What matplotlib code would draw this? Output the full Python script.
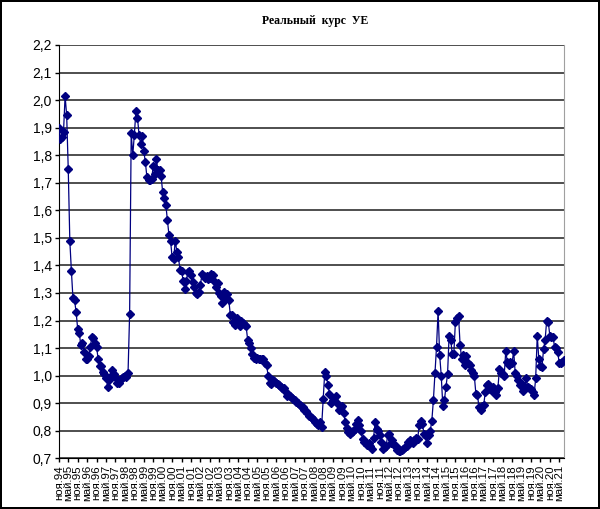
import matplotlib
matplotlib.use('Agg')
import matplotlib.pyplot as plt
from matplotlib.ticker import FixedLocator, FuncFormatter

# monthly values, Nov 1994 .. Sep 2021
kurs_94_98 = [1.90, 1.86, 1.865, 1.885, 2.015, 1.945, 1.75, 1.49, 1.38, 1.28,
              1.275, 1.23, 1.17, 1.155, 1.11, 1.12, 1.085, 1.06, 1.06, 1.07,
              1.105, 1.14, 1.135, 1.12, 1.105, 1.06, 1.035, 1.035, 1.015, 1.005,
              0.99, 0.96, 0.985, 1.00, 1.02, 1.005, 0.995, 0.975, 0.975, 0.985,
              0.99, 0.995, 1.00, 0.995, 1.01, 1.225]
kurs_98_04 = [1.88, 1.80, 1.875, 1.96, 1.935, 1.875, 1.84, 1.87, 1.815, 1.775,
              1.72, 1.71, 1.71, 1.715, 1.76, 1.73, 1.785, 1.745, 1.745, 1.725,
              1.665, 1.645, 1.62, 1.565, 1.51, 1.49, 1.43, 1.425, 1.49, 1.45,
              1.43, 1.385, 1.38, 1.345, 1.315, 1.345, 1.375, 1.38, 1.365, 1.34,
              1.32, 1.30, 1.295, 1.305, 1.33, 1.37, 1.36, 1.355, 1.36, 1.35,
              1.355, 1.37, 1.365, 1.34, 1.32, 1.335, 1.30, 1.29, 1.265, 1.305,
              1.28, 1.295, 1.275, 1.22, 1.22, 1.195, 1.185, 1.21, 1.195, 1.18,
              1.20, 1.19, 1.185, 1.18]
kurs_04_11 = [1.13, 1.12, 1.10, 1.08, 1.065, 1.06, 1.065, 1.06, 1.06, 1.06,
              1.06, 1.045, 1.04, 1.00, 0.975, 0.97, 0.985, 0.98, 0.975, 0.97,
              0.965, 0.96, 0.955, 0.955, 0.945, 0.925, 0.93, 0.925, 0.92, 0.915,
              0.91, 0.905, 0.90, 0.895, 0.89, 0.885, 0.875, 0.87, 0.865, 0.855,
              0.85, 0.845, 0.84, 0.83, 0.825, 0.82, 0.83, 0.815, 0.915, 1.015,
              1.00, 0.965, 0.935, 0.90, 0.91, 0.92, 0.925, 0.90, 0.875, 0.885,
              0.89, 0.865, 0.83, 0.81, 0.795, 0.79, 0.795, 0.80, 0.805, 0.825,
              0.84, 0.82, 0.80, 0.77, 0.76, 0.755, 0.75, 0.755, 0.745, 0.735,
              0.775]
kurs_11_21 = [0.83, 0.805, 0.80, 0.785, 0.76, 0.735, 0.74, 0.745, 0.785, 0.79,
              0.755, 0.765, 0.75, 0.745, 0.73, 0.725, 0.725, 0.73, 0.735, 0.74,
              0.745, 0.76, 0.765, 0.76, 0.755, 0.765, 0.775, 0.77, 0.82, 0.835,
              0.825, 0.79, 0.78, 0.755, 0.785, 0.80, 0.835, 0.91, 1.01, 1.105,
              1.235, 1.075, 1.00, 0.89, 0.91, 0.96, 1.005, 1.145, 1.13, 1.08,
              1.08, 1.195, 1.21, 1.215, 1.11, 1.06, 1.075, 1.04, 1.07, 1.045,
              1.04, 1.02, 1.01, 1.00, 0.935, 0.93, 0.885, 0.875, 0.89, 0.895,
              0.94, 0.965, 0.97, 0.95, 0.945, 0.96, 0.94, 0.93, 0.955, 1.025,
              1.01, 1.005, 1.00, 1.09, 1.05, 1.04, 1.05, 1.045, 1.09, 1.01,
              1.00, 0.985, 0.965, 0.97, 0.945, 0.96, 0.99, 0.96, 0.955, 0.95,
              0.94, 0.93, 0.99, 1.145, 1.06, 1.035, 1.03, 1.095, 1.13, 1.20,
              1.195, 1.145, 1.14, 1.14, 1.105, 1.10, 1.085, 1.045, 1.045, 1.05,
              1.055]

kurs = kurs_94_98 + kurs_98_04 + kurs_04_11 + kurs_11_21

# tick labels every 6 months
years = list(range(94, 100)) + list(range(0, 22))
labels = []
for y in years:
    if y != 94:
        labels.append('май.%02d' % y)
    if y != 21:
        labels.append('ноя.%02d' % y)

fig = plt.figure(figsize=(6.0, 5.09), dpi=100)
fig.patch.set_edgecolor('black')
fig.patch.set_linewidth(1.5)
ax = fig.add_axes([0.098, 0.0996, 0.842, 0.812])

x = list(range(len(kurs)))
ax.plot(x, kurs, color='#000080', lw=0.9, marker='D', markersize=3.6,
        markerfacecolor='#000080', markeredgecolor='#000080', zorder=3)

ax.set_xlim(0, len(kurs) - 1)
ax.set_ylim(0.7, 2.2)
ax.set_yticks([0.7 + 0.1 * k for k in range(16)])
ax.yaxis.set_major_formatter(FuncFormatter(lambda v, p: ('%.1f' % v).replace('.', ',')))
ax.xaxis.set_major_locator(FixedLocator([6 * k for k in range(len(labels))]))
ax.set_xticklabels(labels, rotation=90, fontsize=8.2, family='Liberation Sans')
for t in ax.get_yticklabels():
    t.set_family('Liberation Sans')
    t.set_fontsize(10)

ax.grid(axis='y', color='#404040', lw=1.3)
ax.set_axisbelow(True)
ax.tick_params(axis='both', direction='out', length=3, width=1, pad=2)
ax.spines['left'].set_color('black')
ax.spines['bottom'].set_color('black')
ax.spines['top'].set_visible(False)
ax.spines['right'].set_color('#a0a0a0')

fig.text(0.525, 0.958, 'Реальный  курс  УЕ', ha='center', va='center',
         family='Liberation Serif', fontweight='bold', fontsize=8.5)

fig.savefig('out.png', dpi=100, edgecolor=fig.get_edgecolor())
